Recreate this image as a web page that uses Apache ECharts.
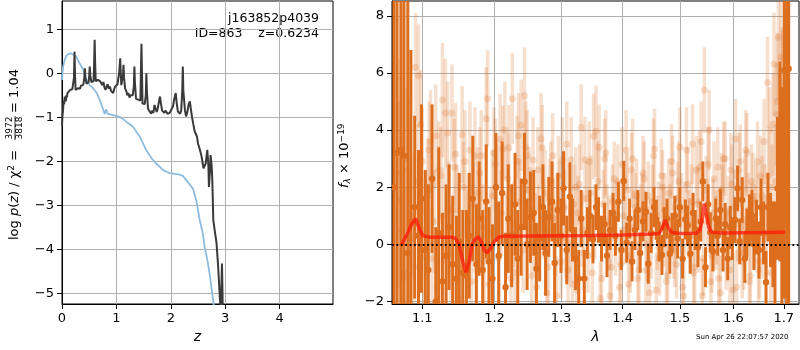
<!DOCTYPE html>
<html><head><meta charset="utf-8">
<script src="https://cdn.jsdelivr.net/npm/echarts@6/dist/echarts.min.js"></script>
<style>html,body{margin:0;padding:0;background:#fff}#c{width:800px;height:350px}</style>
</head><body><div id="c"></div><script>
// ---------- Left panel: log p(z) ----------
const zDark = [0.00,0.01,0.02,0.03,0.04,0.05,0.06,0.07,0.08,0.09,0.10,0.11,0.13,0.15,0.17,0.19,0.21,0.22,0.23,0.24,0.25,0.27,0.29,0.31,0.33,0.35,0.37,0.39,0.41,0.42,0.43,0.45,0.47,0.49,0.50,0.51,0.52,0.54,0.56,0.58,0.59,0.60,0.61,0.62,0.64,0.66,0.68,0.70,0.72,0.74,0.76,0.78,0.80,0.82,0.84,0.86,0.88,0.90,0.92,0.94,0.96,0.98,1.00,1.02,1.04,1.05,1.07,1.08,1.09,1.11,1.12,1.13,1.14,1.16,1.18,1.20,1.22,1.24,1.26,1.28,1.30,1.32,1.33,1.34,1.36,1.38,1.40,1.42,1.44,1.45,1.46,1.47,1.48,1.50,1.52,1.54,1.55,1.56,1.58,1.60,1.62,1.64,1.66,1.68,1.70,1.72,1.74,1.76,1.78,1.80,1.82,1.84,1.86,1.88,1.90,1.92,1.94,1.96,1.98,2.00,2.02,2.04,2.06,2.09,2.11,2.13,2.15,2.17,2.19,2.21,2.22,2.23,2.26,2.28,2.30,2.33,2.35,2.37,2.39,2.41,2.44,2.46,2.48,2.50,2.53,2.56,2.58,2.60,2.62,2.64,2.67,2.69,2.70,2.72,2.73,2.75,2.76,2.77,2.78,2.81,2.84,2.87,2.89,2.91,2.92,2.93,2.94,2.95,2.96,2.98];
const pDark = [-1.18,-0.95,-0.83,-0.62,-0.70,-0.53,-0.58,-0.64,-0.50,-0.55,-0.45,-0.42,-0.45,-0.38,-0.40,-0.36,-0.38,-0.10,0.49,-0.05,-0.38,-0.36,-0.34,-0.30,-0.35,-0.28,-0.30,-0.27,-0.10,0.11,-0.10,-0.24,-0.22,-0.20,-0.05,0.15,-0.05,-0.20,-0.20,-0.18,0.20,0.76,0.20,-0.18,-0.20,-0.15,-0.12,-0.18,-0.22,-0.27,-0.20,-0.32,-0.38,-0.30,-0.25,-0.35,-0.30,-0.40,-0.38,-0.45,-0.35,-0.30,-0.27,-0.25,-0.22,0.00,0.34,0.00,-0.27,-0.25,-0.05,0.19,-0.10,-0.35,-0.40,-0.50,-0.45,-0.55,-0.50,-0.54,-0.50,-0.30,0.15,-0.20,-0.58,-0.55,-0.60,-0.58,-0.62,0.00,0.67,0.00,-0.69,-0.65,-0.70,-0.50,0.00,-0.40,-0.80,-0.85,-0.88,-0.92,-0.85,-0.90,-0.72,-0.80,-0.88,-0.80,-0.65,-0.53,-0.70,-0.85,-0.87,-0.90,-0.85,-0.88,-0.92,-0.88,-0.90,-0.85,-0.80,-0.75,-0.60,-0.45,-0.70,-0.87,-0.90,-0.92,-0.85,-0.40,0.15,-0.40,-0.85,-0.98,-0.90,-0.70,-0.64,-0.83,-1.00,-1.14,-1.33,-1.38,-1.44,-1.60,-1.72,-1.86,-2.00,-2.16,-2.20,-2.05,-1.74,-2.10,-2.58,-2.20,-1.86,-2.10,-2.35,-2.80,-3.33,-3.60,-3.86,-4.40,-4.85,-5.30,-5.50,-4.80,-4.32,-5.00,-6.00,-7.00];
const zBlue = [0.00,0.02,0.05,0.08,0.12,0.17,0.21,0.26,0.32,0.36,0.39,0.42,0.45,0.48,0.51,0.57,0.64,0.69,0.75,0.785,0.81,0.84,0.94,1.03,1.10,1.18,1.30,1.43,1.55,1.64,1.73,1.86,1.98,2.10,2.16,2.22,2.30,2.41,2.47,2.53,2.59,2.62,2.68,2.72,2.79];
const pBlue = [-0.15,0.15,0.30,0.40,0.44,0.45,0.42,0.38,0.23,0.15,0.08,-0.05,-0.15,-0.20,-0.27,-0.34,-0.45,-0.60,-0.80,-0.93,-0.82,-0.92,-0.95,-0.98,-1.02,-1.10,-1.21,-1.44,-1.75,-1.92,-2.05,-2.20,-2.27,-2.29,-2.30,-2.33,-2.45,-2.63,-2.90,-3.33,-3.65,-3.94,-4.30,-4.62,-5.27];
const leftXTicks = [0,1,2,3,4];
const leftYTicks = [-5,-4,-3,-2,-1,0,1];

// ---------- Right panel: spectrum ----------
const darkLam = [1.063,1.067,1.072,1.076,1.081,1.085,1.090,1.095,1.099,1.104,
1.108,1.113,1.118,1.122,1.127,1.132,1.136,1.141,1.146,1.150,
1.155,1.160,1.164,1.169,1.174,1.178,1.183,1.188,1.192,1.197,
1.202,1.206,1.211,1.216,1.220,1.225,1.230,1.234,1.239,1.244,
1.248,1.253,1.258,1.262,1.267,1.272,1.276,1.281,1.286,1.290,
1.295,1.300,1.304,1.309,1.314,1.318,1.323,1.328,1.332,1.337,
1.342,1.346,1.351,1.356,1.360,1.365,1.370,1.374,1.379,1.384,
1.388,1.393,1.398,1.402,1.407,1.412,1.416,1.421,1.426,1.430,
1.435,1.440,1.444,1.449,1.454,1.458,1.463,1.468,1.472,1.477,
1.482,1.486,1.491,1.496,1.500,1.505,1.510,1.514,1.519,1.524,
1.528,1.533,1.538,1.542,1.547,1.552,1.556,1.561,1.566,1.570,
1.575,1.580,1.584,1.589,1.594,1.598,1.603,1.608,1.612,1.617,
1.622,1.626,1.631,1.636,1.640,1.645,1.650,1.654,1.659,1.664,
1.668,1.673,1.678,1.682,1.687,1.692,1.696,1.701,1.706,1.710];
const darkFlux = [2.0,3.2,3.3,3.1,-0.3,0.8,1.3,0.3,1.6,-0.2,
-0.9,2.3,-2.0,0.4,-1.3,-0.4,0.6,-0.7,-1.2,0.1,
-1.0,-1.1,0.3,1.6,-0.7,0.9,-0.9,1.5,-0.6,-1.2,
2.0,-0.4,1.8,-1.5,0.9,0.3,1.4,-0.5,0.6,2.2,
0.0,0.95,1.1,-0.85,0.2,1.3,-0.3,0.96,1.5,-0.65,
1.2,0.3,1.96,-0.2,1.67,0.5,-0.5,-1.2,0.9,-1.2,
0.4,1.0,0.18,1.3,0.85,0.2,0.7,-0.4,0.5,1.1,
0.3,1.49,-0.2,2.22,0.06,0.9,-0.6,0.5,1.2,-0.3,
0.8,1.14,-0.68,0.4,1.3,0.86,0.1,-0.37,0.6,0.9,
-0.33,0.4,1.0,0.2,1.3,-0.5,0.87,0.66,-0.33,1.1,
0.5,-0.1,0.8,2.2,-0.8,1.4,0.42,-0.25,0.9,0.3,
1.2,-0.2,0.7,-0.5,0.59,0.2,0.85,1.96,0.1,1.55,
-0.5,0.4,0.85,1.0,0.0,0.6,-0.2,1.3,0.4,-1.33,
1.3,0.5,0.0,-0.3,1.96,2.9,0.5,6.1,3.0,6.15];
const darkErr = [9,8,8,7,9,6,3.2,3.0,3.3,2.8,
3.0,2.6,2.6,3.0,2.4,2.5,2.2,2.4,2.2,2.4,
2.2,2.3,2.2,2.2,2.1,2.0,2.1,2.0,1.9,1.9,
1.9,1.9,1.8,1.9,1.9,1.8,1.8,1.7,1.7,1.7,
1.6,1.6,1.5,1.6,1.5,1.5,1.5,1.4,1.4,1.4,
1.3,1.3,1.3,1.2,1.2,1.1,1.1,1.0,1.0,1.0,
0.9,0.9,0.85,0.8,0.8,0.8,0.75,0.75,0.7,0.7,
0.7,0.7,0.7,0.7,0.7,0.7,0.7,0.7,0.7,0.7,
0.7,0.7,0.7,0.7,0.7,0.7,0.7,0.7,0.7,0.7,
0.7,0.7,0.7,0.7,0.7,0.7,0.7,0.7,0.7,0.7,
0.7,0.7,0.7,0.7,0.7,0.7,0.7,0.7,0.7,0.7,
0.75,0.75,0.75,0.75,0.75,0.75,0.8,0.8,0.8,0.8,
0.85,0.85,0.9,0.9,0.9,0.95,1.0,1.0,1.1,1.1,
1.2,1.3,1.5,1.8,2.5,3.5,5,8,9,10];

const lightLam = [1.068,1.073,1.077,1.082,1.086,1.091,1.095,1.100,1.104,1.109,
1.113,1.118,1.122,1.127,1.131,1.136,1.140,1.145,1.149,1.154,
1.158,1.163,1.167,1.172,1.176,1.181,1.185,1.190,1.194,1.199,
1.203,1.208,1.212,1.217,1.221,1.226,1.230,1.235,1.239,1.244,
1.248,1.253,1.257,1.262,1.266,1.271,1.275,1.280,1.284,1.289,
1.293,1.298,1.302,1.307,1.311,1.316,1.320,1.325,1.329,1.334,
1.338,1.343,1.347,1.352,1.356,1.361,1.365,1.370,1.374,1.379,
1.383,1.388,1.392,1.397,1.401,1.406,1.410,1.415,1.419,1.424,
1.428,1.433,1.437,1.442,1.446,1.451,1.455,1.460,1.464,1.469,
1.473,1.478,1.482,1.487,1.491,1.496,1.500,1.505,1.509,1.514,
1.518,1.523,1.527,1.532,1.536,1.541,1.545,1.550,1.554,1.559,
1.563,1.568,1.572,1.577,1.581,1.586,1.590,1.595,1.599,1.604,
1.608,1.613,1.617,1.622,1.626,1.631,1.635,1.640,1.644,1.649,
1.653,1.658,1.662,1.667,1.671,1.676,1.680,1.685,1.689,1.694,
1.698];
const lightFlux = [2.5,0.5,-1.0,2.6,1.0,6.2,5.9,2.9,0.5,3.3,
-0.5,3.8,2.6,5.05,4.6,1.2,4.6,3.15,-0.8,3.84,
2.9,0.8,-1.3,3.1,1.8,3.1,-0.6,5.1,0.4,3.2,
2.0,3.67,3.35,0.3,3.38,5.1,-1.0,3.8,4.17,5.2,
3.1,1.2,2.95,-1.5,0.6,3.38,1.8,-0.8,2.2,0.9,
-1.8,1.5,2.95,0.2,-0.9,2.96,1.4,-1.6,2.1,0.5,
2.96,-0.4,1.8,3.78,3.96,3.4,-1.2,3.0,0.8,-1.8,
1.5,0.2,2.2,-0.7,1.0,3.3,-1.4,2.6,0.6,1.7,
-0.9,1.2,2.3,0.0,-1.7,1.5,3.34,0.4,-0.5,2.0,
1.2,-1.1,0.8,2.5,-0.2,1.6,3.4,-1.5,0.9,2.1,
0.3,3.5,-0.8,1.4,2.7,-1.8,5.4,1.0,4.0,-0.4,
2.3,0.6,-1.2,1.9,3.0,-0.3,1.1,2.6,-1.6,3.69,
0.7,2.9,-0.6,1.8,3.2,-1.3,2.2,0.5,1.5,-0.9,
2.4,0.2,1.3,5.67,4.0,2.0,6.31,4.55,7.25,6.55,
4.5];
const lightErr = [4,3.5,3,2.5,2.2,1.9,1.8,1.9,1.8,1.7,
1.8,1.8,1.7,2.0,1.9,1.7,1.7,1.8,1.7,1.7,
1.8,1.7,1.6,1.7,1.6,1.6,1.6,1.7,1.6,1.6,
1.5,1.6,1.5,1.5,1.5,1.6,1.5,1.5,1.6,1.7,
1.6,1.5,1.5,1.5,1.5,1.5,1.5,1.4,1.4,1.4,
1.4,1.4,1.5,1.4,1.4,1.5,1.4,1.3,1.4,1.3,
1.5,1.3,1.3,1.5,1.6,1.5,1.3,1.4,1.3,1.3,
1.3,1.3,1.3,1.3,1.3,1.4,1.3,1.3,1.3,1.3,
1.3,1.3,1.3,1.3,1.3,1.3,1.4,1.3,1.3,1.3,
1.3,1.3,1.3,1.3,1.3,1.3,1.4,1.3,1.3,1.3,
1.3,1.4,1.3,1.3,1.3,1.3,1.5,1.3,1.4,1.3,
1.3,1.3,1.3,1.3,1.3,1.3,1.3,1.3,1.3,1.4,
1.3,1.3,1.3,1.3,1.4,1.3,1.3,1.3,1.3,1.4,
1.4,1.4,1.5,1.6,1.5,1.5,1.8,1.8,2.2,2.6,
3];

const light2Lam = [1.070,1.075,1.080,1.084,1.089,1.093,1.098,1.102,1.107,1.111,
1.116,1.120,1.125,1.129,1.134,1.138,1.143,1.147,1.152,1.156,
1.161,1.165,1.170,1.174,1.179,1.183,1.188,1.192,1.197,1.201,
1.206,1.210,1.215,1.219,1.224,1.228,1.233,1.237,1.242,1.246,
1.251,1.255,1.260,1.264,1.269,1.273,1.278,1.282,1.287,1.291,
1.296,1.300,1.305,1.309,1.314,1.318,1.323,1.327,1.332,1.336,
1.341,1.345,1.350,1.354,1.359,1.363,1.368,1.372,1.377,1.381,
1.386,1.390,1.395,1.399,1.404,1.408,1.413,1.417,1.422,1.426,
1.431,1.435,1.440,1.444,1.449,1.453,1.458,1.462,1.467,1.471,
1.476,1.480,1.485,1.489,1.494,1.498,1.503,1.507,1.512,1.516,
1.521,1.525,1.530,1.534,1.539,1.543,1.548,1.552,1.557,1.561,
1.566,1.570,1.575,1.579,1.584,1.588,1.593,1.597,1.602,1.606,
1.611,1.615,1.620,1.624,1.629,1.633,1.638,1.642,1.647,1.651,
1.656,1.660,1.665,1.669,1.674,1.678,1.683,1.687,1.692,1.696];
const light2Flux = [1.5,-1.2,3.0,0.2,-0.8,2.2,4.2,-0.4,1.9,3.6,
0.8,-1.5,2.4,1.0,3.9,-0.3,2.7,1.2,-1.9,2.0,
0.3,3.3,1.4,-0.9,2.5,0.6,4.4,-1.4,1.7,2.8,
-0.5,1.1,4.0,2.3,-1.2,0.7,2.9,1.5,-0.2,3.4,
1.9,-1.1,0.4,2.6,3.7,0.9,-1.7,1.6,3.1,0.2,
2.4,-0.6,1.3,3.5,0.0,-1.4,2.0,1.1,4.1,-0.3,
1.6,2.9,-1.0,0.8,2.2,-1.9,1.4,3.2,0.4,-0.8,
2.3,1.0,-1.5,2.8,0.5,1.9,-0.4,3.0,1.3,-1.2,
0.9,2.5,-0.9,1.7,0.2,3.1,-1.6,1.0,2.4,0.6,
-1.3,1.8,2.9,0.1,-0.7,2.2,1.2,-1.8,3.3,0.7,
1.5,-1.0,2.6,0.3,3.6,-0.5,1.9,2.8,-1.3,1.1,
0.4,2.7,-1.7,1.6,3.0,0.0,-0.9,2.1,1.3,-1.5,
2.6,0.8,-0.3,3.3,1.2,-1.1,2.0,0.5,2.9,-0.6,
1.7,3.6,0.3,2.4,-1.0,4.2,2.2,5.0,3.1,4.4];
const light2Err = [3.5,3,2.5,2.2,2.0,2.0,1.9,1.9,1.8,1.8,
1.8,1.8,1.7,1.7,1.8,1.7,1.7,1.6,1.7,1.6,
1.6,1.7,1.5,1.6,1.6,1.5,1.8,1.5,1.6,1.6,
1.5,1.5,1.7,1.6,1.5,1.5,1.6,1.5,1.5,1.6,
1.5,1.4,1.4,1.5,1.6,1.4,1.4,1.4,1.5,1.3,
1.4,1.3,1.3,1.5,1.3,1.3,1.4,1.3,1.5,1.3,
1.3,1.4,1.2,1.3,1.4,1.3,1.2,1.5,1.3,1.2,
1.3,1.2,1.4,1.3,1.2,1.3,1.3,1.4,1.2,1.3,
1.2,1.3,1.3,1.2,1.4,1.3,1.3,1.2,1.3,1.4,
1.3,1.2,1.3,1.3,1.2,1.4,1.3,1.3,1.5,1.2,
1.3,1.3,1.2,1.3,1.4,1.3,1.2,1.3,1.3,1.2,
1.3,1.4,1.3,1.2,1.3,1.3,1.2,1.4,1.3,1.3,
1.3,1.2,1.3,1.4,1.3,1.3,1.2,1.3,1.4,1.3,
1.4,1.5,1.4,1.5,1.6,1.8,2.0,2.4,2.8,3.2];

const modelLam = [1.073,1.080,1.086,1.091,1.096,1.101,1.110,1.120,1.130,1.140,1.145,1.150,1.155,1.1595,1.164,1.168,1.173,1.177,1.181,1.185,1.189,1.194,1.200,1.206,1.212,1.250,1.300,1.350,1.400,1.450,1.463,1.468,1.4735,1.479,1.485,1.500,1.530,1.537,1.541,1.5446,1.549,1.553,1.558,1.580,1.650,1.703];
const modelFlux = [0.0,0.35,0.7,0.9,0.55,0.3,0.25,0.25,0.25,0.25,0.2,0.0,-0.6,-0.98,-0.6,0.0,0.2,0.26,0.1,-0.2,-0.3,-0.15,0.1,0.25,0.28,0.29,0.3,0.31,0.33,0.36,0.38,0.55,0.85,0.6,0.42,0.38,0.39,0.5,0.9,1.43,1.0,0.6,0.42,0.4,0.41,0.42];
const rightXTicks = [1.1,1.2,1.3,1.4,1.5,1.6,1.7];
const rightYTicks = [-2,0,2,4,6,8];

// ---------- chart ----------
const FONT = 'DejaVu Sans';
const minus = v => String(v).replace('-', '\u2212');
const lg = Math.log10;
const ORANGE = '#dc6e1e';

function errItem(color, opacity, barW, r) {
  return function (params, api) {
    const x = api.value(0), y = api.value(1), e = api.value(2);
    const t = api.coord([x, y + e]), b = api.coord([x, y - e]), c = api.coord([x, y]);
    return {
      type: 'group',
      children: [
        { type: 'rect', shape: { x: c[0] - barW / 2, y: t[1], width: barW, height: b[1] - t[1] }, style: { fill: color, opacity: opacity } },
        { type: 'circle', shape: { cx: c[0], cy: c[1], r: r }, style: { fill: color, opacity: opacity } }
      ]
    };
  };
}

function ax(extra, ticks, fmt) {
  return Object.assign({}, extra, {
    axisLine: { show: true, onZero: false, lineStyle: { color: '#000', width: 1 } },
    axisTick: { show: true, length: 5, customValues: ticks, lineStyle: { color: '#000', width: 1 } },
    splitLine: { show: true, lineStyle: { color: '#b0b0b0', width: 1 } },
    axisLabel: { color: '#000', fontSize: 13, fontFamily: FONT, margin: 8, customValues: ticks, formatter: fmt }
  });
}

const chart = echarts.init(document.getElementById('c'), null, { renderer: 'canvas' });
const option = {
  animation: false,
  backgroundColor: '#fff',
  grid: [
    { left: 62, top: 1, width: 271, height: 303, show: true, borderColor: '#000', borderWidth: 1 },
    { left: 392, top: 1, width: 407, height: 303, show: true, borderColor: '#000', borderWidth: 1 }
  ],
  xAxis: [
    ax({ type: 'value', gridIndex: 0, min: 0, max: 4.98, name: 'z', nameLocation: 'middle', nameGap: 24,
         nameTextStyle: { fontSize: 14, fontStyle: 'italic', fontFamily: FONT, color: '#000' } }, leftXTicks, v => minus(v)),
    ax({ type: 'value', gridIndex: 1, min: lg(1.0606), max: lg(1.7314), name: 'λ', nameLocation: 'middle', nameGap: 24,
         nameTextStyle: { fontSize: 14, fontStyle: 'italic', fontFamily: FONT, color: '#000' } }, rightXTicks.map(lg), v => Math.pow(10, v).toFixed(1))
  ],
  yAxis: [
    ax({ type: 'value', gridIndex: 0, min: -5.24, max: 1.64 }, leftYTicks, v => minus(v)),
    ax({ type: 'value', gridIndex: 1, min: -2.09, max: 8.52 }, rightYTicks, v => minus(v))
  ],
  series: [
    { type: 'line', xAxisIndex: 0, yAxisIndex: 0, showSymbol: false, clip: true,
      lineStyle: { color: '#8dbcdd', width: 1.8 }, data: zBlue.map((z, i) => [z, pBlue[i]]) },
    { type: 'line', xAxisIndex: 0, yAxisIndex: 0, showSymbol: false, clip: true,
      lineStyle: { color: '#3a3a3a', width: 2 }, data: zDark.map((z, i) => [z, pDark[i]]) },
    { type: 'custom', xAxisIndex: 1, yAxisIndex: 1, clip: true, renderItem: errItem(ORANGE, 0.22, 3.5, 3.5),
      encode: { x: 0, y: 1 }, data: light2Lam.map((l, i) => [lg(l), light2Flux[i], light2Err[i]]) },
    { type: 'custom', xAxisIndex: 1, yAxisIndex: 1, clip: true, renderItem: errItem(ORANGE, 0.22, 3.5, 3.5),
      encode: { x: 0, y: 1 }, data: lightLam.map((l, i) => [lg(l), lightFlux[i], lightErr[i]]) },
    { type: 'custom', xAxisIndex: 1, yAxisIndex: 1, clip: true, renderItem: errItem(ORANGE, 1, 3, 3.2),
      encode: { x: 0, y: 1 }, data: darkLam.map((l, i) => [lg(l), darkFlux[i], darkErr[i]]) },
    { type: 'line', xAxisIndex: 1, yAxisIndex: 1, showSymbol: false, clip: true,
      lineStyle: { color: '#ff1a0a', width: 3.5, opacity: 0.75 }, data: modelLam.map((l, i) => [lg(l), modelFlux[i]]),
      markLine: { silent: true, symbol: 'none', label: { show: false },
        lineStyle: { color: '#000', width: 1.8, type: [1.8, 2.6], opacity: 1 }, data: [{ yAxis: 0 }] } }
  ],
  graphic: [
    { type: 'text', right: 800 - 319, top: 12, style: { text: 'j163852p4039', fontSize: 12.5, fontFamily: FONT, fill: '#000', align: 'right' } },
    { type: 'text', right: 800 - 319, top: 27, style: { text: 'ID=863    z=0.6234', fontSize: 12.5, fontFamily: FONT, fill: '#000', align: 'right' } },
    { type: 'text', left: 696, top: 334, style: { text: 'Sun Apr 26 22:07:57 2020', fontSize: 7, fontFamily: FONT, fill: '#000' } },
    { type: 'group', x: 15, y: 240, rotation: Math.PI / 2, children: [
      { type: 'text', x: 0, y: 0, style: { text: 'log {i|p}({i|z}) / χ{sup|2} =', fontSize: 13, fontFamily: FONT, fill: '#000', align: 'left', verticalAlign: 'middle',
        rich: { i: { fontSize: 13, fontFamily: FONT, fontStyle: 'italic' }, sup: { fontSize: 9, fontFamily: FONT, padding: [0, 0, 7, 0] } } } },
      { type: 'text', x: 112, y: -5, style: { text: '3972', fontSize: 9, fontFamily: FONT, fill: '#000', align: 'center', verticalAlign: 'middle' } },
      { type: 'line', shape: { x1: 100, y1: 0, x2: 124, y2: 0 }, style: { stroke: '#000', lineWidth: 0.8 } },
      { type: 'text', x: 112, y: 5, style: { text: '3818', fontSize: 9, fontFamily: FONT, fill: '#000', align: 'center', verticalAlign: 'middle' } },
      { type: 'text', x: 127, y: 0, style: { text: '= 1.04', fontSize: 13, fontFamily: FONT, fill: '#000', align: 'left', verticalAlign: 'middle' } }
    ] },
    { type: 'group', x: 345, y: 188, rotation: Math.PI / 2, children: [
      { type: 'text', x: 0, y: 0, style: { text: '{i|f}{sub|λ} × 10{sup|\u221219}', fontSize: 13, fontFamily: FONT, fill: '#000', align: 'left', verticalAlign: 'middle',
        rich: { i: { fontSize: 13, fontFamily: FONT, fontStyle: 'italic' }, sub: { fontSize: 9, fontFamily: FONT, fontStyle: 'italic', padding: [6, 0, 0, 0] }, sup: { fontSize: 9, fontFamily: FONT, padding: [0, 0, 7, 0] } } } }
    ] }
  ]
};
chart.setOption(option);
</script></body></html>
